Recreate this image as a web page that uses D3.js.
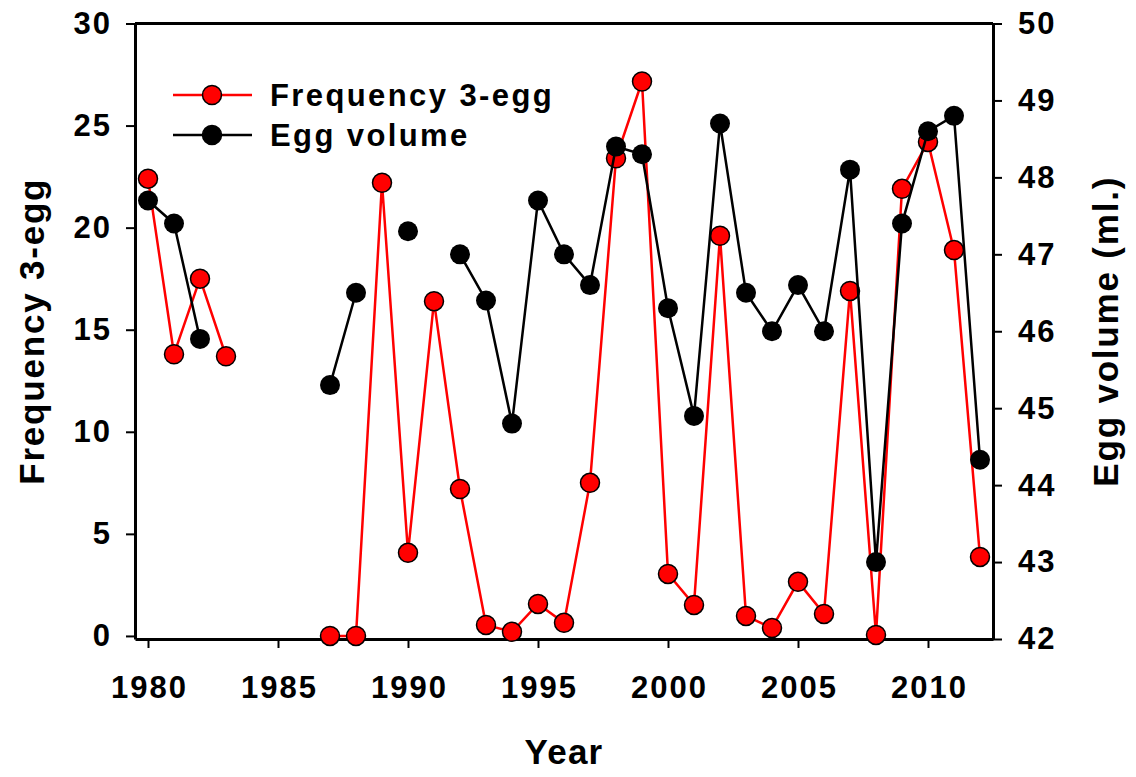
<!DOCTYPE html>
<html>
<head>
<meta charset="utf-8">
<script src="https://cdn.jsdelivr.net/npm/d3@7"></script>
<style>
body { margin: 0; background: #fff; }
svg text { font-family: "Liberation Sans", Arial, sans-serif; font-weight: bold; fill: #000; }
</style>
</head>
<body>
<svg class="chart" width="1136" height="777"></svg>
<script>
// values, null = no data that year
var years = [1980, 1981, 1982, 1983, 1984, 1985, 1986, 1987, 1988, 1989, 1990, 1991, 1992, 1993, 1994, 1995, 1996,
	1997, 1998, 1999, 2000, 2001, 2002, 2003, 2004, 2005, 2006, 2007, 2008, 2009, 2010, 2011, 2012];
var freq3egg = [22.4, 13.8, 17.5, 13.7, null, null, null, 0.0, 0.0, 22.2, 4.07, 16.4, 7.2, 0.54, 0.2, 1.57, 0.64,
	7.5, 23.4, 27.16, 3.04, 1.52, 19.6, 0.98, 0.39, 2.65, 1.08, 16.9, 0.05, 21.9, 24.2, 18.9, 3.87];
var eggVolume = [47.7, 47.4, 45.9, null, null, null, null, 45.3, 46.5, null, 47.3, null, 47.0, 46.4, 44.8, 47.7, 47.0,
	46.6, 48.4, 48.3, 46.3, 44.9, 48.7, 46.5, 46.0, 46.6, 46.0, 48.1, 43.0, 47.4, 48.6, 48.8, 44.33];
var xTicks = [1980, 1985, 1990, 1995, 2000, 2005, 2010];
var leftTicks = [0, 5, 10, 15, 20, 25, 30];
var rightTicks = [42, 43, 44, 45, 46, 47, 48, 49, 50];

var svg = d3.select(".chart"),
	margin = {
		top: 23.5,
		right: 143,
		bottom: 138,
		left: 135
	},
	width = +svg.attr("width") - margin.left - margin.right,
	height = +svg.attr("height") - margin.top - margin.bottom,
	g = svg.append("g").attr("transform", "translate(" + margin.left + "," + margin.top + ")");

var x = d3.scaleLinear()
	.domain([1979.5, 2012.5])
	.range([0, width]);
var yL = d3.scaleLinear()
	.domain([-0.15, 30])
	.range([height, 0]);
var yR = d3.scaleLinear()
	.domain([42, 50])
	.range([height, 0]);

var freqData = years.map(function(d, i) { return { year: d, v: freq3egg[i] }; });
var volData = years.map(function(d, i) { return { year: d, v: eggVolume[i] }; });

var lineL = d3.line()
	.defined(function(d) { return d.v != null; })
	.x(function(d) { return x(d.year); })
	.y(function(d) { return yL(d.v); });
var lineR = d3.line()
	.defined(function(d) { return d.v != null; })
	.x(function(d) { return x(d.year); })
	.y(function(d) { return yR(d.v); });

// axes
var bot = g.append("g")
	.attr("transform", "translate(0," + height + ")")
	.call(d3.axisBottom(x).tickValues(xTicks).tickFormat(d3.format("d")).tickSize(9).tickSizeOuter(0).tickPadding(28));
var left = g.append("g")
	.call(d3.axisLeft(yL).tickValues(leftTicks).tickSize(9).tickSizeOuter(0).tickPadding(14));
var right = g.append("g")
	.attr("transform", "translate(" + width + ",0)")
	.call(d3.axisRight(yR).tickValues(rightTicks).tickSize(9).tickSizeOuter(0).tickPadding(16));
[bot, left, right].forEach(function(a) {
	a.select(".domain").attr("stroke", "#000").attr("stroke-width", 3);
	a.selectAll(".tick line").attr("stroke", "#000").attr("stroke-width", 2);
	a.selectAll("text")
		.style("font-size", "31px")
		.style("letter-spacing", "2px")
		.attr("fill", "#000");
});
bot.selectAll("text").attr("dx", "1px");
g.append("line")
	.attr("x1", 0).attr("x2", width)
	.attr("y1", 0).attr("y2", 0)
	.attr("stroke", "#000")
	.attr("stroke-width", 3);

// series
g.append("path")
	.datum(freqData)
	.attr("fill", "none")
	.attr("stroke", "#ff0000")
	.attr("stroke-width", 2.5)
	.attr("d", lineL);
g.selectAll(".ptL")
	.data(freqData.filter(function(d) { return d.v != null; }))
	.enter().append("circle")
	.attr("class", "ptL")
	.attr("cx", function(d) { return x(d.year); })
	.attr("cy", function(d) { return yL(d.v); })
	.attr("r", 9.5)
	.attr("fill", "#ff0000")
	.attr("stroke", "#000")
	.attr("stroke-width", 1.5);
g.append("path")
	.datum(volData)
	.attr("fill", "none")
	.attr("stroke", "#000")
	.attr("stroke-width", 2.5)
	.attr("d", lineR);
g.selectAll(".ptR")
	.data(volData.filter(function(d) { return d.v != null; }))
	.enter().append("circle")
	.attr("class", "ptR")
	.attr("cx", function(d) { return x(d.year); })
	.attr("cy", function(d) { return yR(d.v); })
	.attr("r", 10)
	.attr("fill", "#000");

// legend
var legend = svg.append("g");
var items = [
	{ label: "Frequency 3-egg", color: "#ff0000", y: 95 },
	{ label: "Egg volume", color: "#000", y: 135 }
];
items.forEach(function(it) {
	legend.append("line")
		.attr("x1", 173).attr("x2", 252)
		.attr("y1", it.y).attr("y2", it.y)
		.attr("stroke", it.color)
		.attr("stroke-width", 2.5);
	legend.append("circle")
		.attr("cx", 212).attr("cy", it.y)
		.attr("r", 9.5)
		.attr("fill", it.color)
		.attr("stroke", "#000")
		.attr("stroke-width", 1.5);
	legend.append("text")
		.attr("x", 270)
		.attr("y", it.y + 11)
		.style("font-size", "31px")
		.style("letter-spacing", "2.4px")
		.text(it.label);
});

// axis titles
svg.append("text")
	.attr("x", margin.left + width / 2)
	.attr("y", 764)
	.attr("text-anchor", "middle")
	.style("font-size", "35px")
	.style("letter-spacing", "1.2px")
	.text("Year");
svg.append("text")
	.attr("transform", "translate(44," + (margin.top + height / 2) + ") rotate(-90)")
	.attr("text-anchor", "middle")
	.style("font-size", "35px")
	.style("letter-spacing", "1.8px")
	.text("Frequency 3-egg");
svg.append("text")
	.attr("transform", "translate(1118," + (margin.top + height / 2) + ") rotate(-90)")
	.attr("text-anchor", "middle")
	.style("font-size", "35px")
	.style("letter-spacing", "1.8px")
	.text("Egg volume (ml.)");
</script>
</body>
</html>
